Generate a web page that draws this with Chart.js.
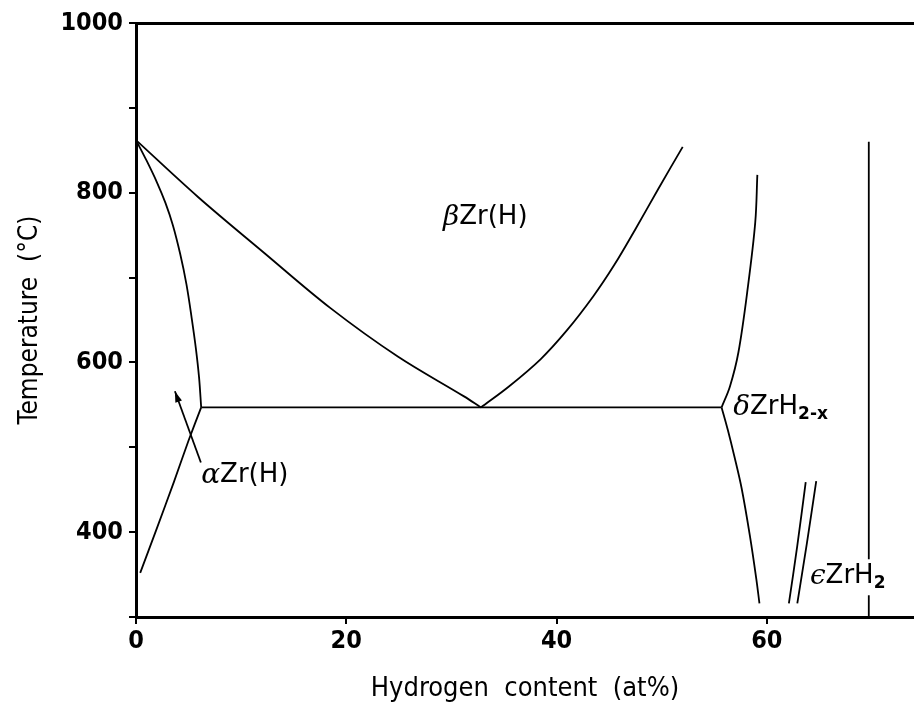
<!DOCTYPE html>
<html>
<head>
<meta charset="utf-8">
<title>Zr–H phase diagram</title>
<script src="https://cdn.jsdelivr.net/npm/chart.js@4.4.1/dist/chart.umd.min.js"></script>
<style>
  html, body { margin: 0; padding: 0; background: #fff; }
  #phaseChart { display: block; }
</style>
</head>
<body>
<canvas id="phaseChart" width="914" height="711"></canvas>
<script>
// Phase boundaries: hydrogen content (at%) against temperature (°C)
const alphaUpperH = [0, 1.0, 2.0, 2.8, 3.5, 4.2, 4.8, 5.3, 5.7, 6.0, 6.2];
const alphaUpperT = [862, 838, 812, 788, 762, 728, 692, 652, 616, 582, 547];

const alphaLowerH = [0.4, 2.0, 3.6, 5.0, 6.2];
const alphaLowerT = [352, 405, 459, 508, 547];

const betaLeftH = [0, 5.9, 12.2, 18.5, 24.9, 31.2, 32.8];
const betaLeftT = [862, 795, 729, 664, 607, 560, 547];

const betaRightH = [32.8, 35.5, 38.5, 41.0, 43.5, 45.5, 47.5, 49.7, 52.0];
const betaRightT = [547, 572, 604, 638, 678, 715, 757, 805, 854];

const eutectoidH = [6.2, 55.7];
const eutectoidT = [547, 547];

const deltaUpperH = [55.7, 56.5, 57.3, 58.2, 58.9, 59.1];
const deltaUpperT = [547, 572, 612, 689, 765, 821];

const deltaLowerH = [55.7, 56.3, 56.9, 57.6, 58.4, 59.0, 59.3];
const deltaLowerT = [547, 520, 490, 452, 395, 345, 316];

const epsLeftH = [63.7, 62.9, 62.1];
const epsLeftT = [459, 384, 316];

const epsRightH = [64.7, 63.8, 62.9];
const epsRightT = [460, 386, 316];

const dihydrideH = [69.7, 69.7];
const dihydrideT = [860, 300];

// pointer from the αZr(H) label into the α field (tail, tip)
const arrowH = [6.17, 3.7];
const arrowT = [482, 566];

const xTickLabels = [0, 20, 40, 60];
const yTickLabels = [400, 600, 800, 1000];

// phase names: greek prefix, formula, subscript, anchor (at%, °C)
const phaseNames = [
  { greek: 'β', text: 'Zr(H)', sub: '', h: 29.2, t: 771 },
  { greek: 'α', text: 'Zr(H)', sub: '', h: 6.2, t: 467 },
  { greek: 'δ', text: 'ZrH', sub: '2-x', h: 56.8, t: 547 },
  { greek: 'ϵ', text: 'ZrH', sub: '2', h: 64.1, t: 348, knockout: true },
];

const toPoints = (xs, ys) => xs.map((x, i) => ({ x: x, y: ys[i] }));

const boundary = (xs, ys, tension = 0.35) => ({
  data: toPoints(xs, ys),
  showLine: true,
  borderColor: '#000',
  borderWidth: 1.8,
  pointRadius: 0,
  fill: false,
  tension: tension,
});

const arrowHead = {
  id: 'arrowHead',
  afterDatasetsDraw(chart) {
    const { ctx, scales: { x, y } } = chart;
    const x0 = x.getPixelForValue(arrowH[0]), y0 = y.getPixelForValue(arrowT[0]);
    const x1 = x.getPixelForValue(arrowH[1]), y1 = y.getPixelForValue(arrowT[1]);
    const ang = Math.atan2(y1 - y0, x1 - x0);
    const len = 11, half = 3.5;
    ctx.save();
    ctx.fillStyle = '#000';
    ctx.beginPath();
    ctx.moveTo(x1, y1);
    ctx.lineTo(x1 - len * Math.cos(ang) + half * Math.sin(ang), y1 - len * Math.sin(ang) - half * Math.cos(ang));
    ctx.lineTo(x1 - len * Math.cos(ang) - half * Math.sin(ang), y1 - len * Math.sin(ang) + half * Math.cos(ang));
    ctx.closePath();
    ctx.fill();
    ctx.restore();
  }
};

const phaseLabels = {
  id: 'phaseLabels',
  afterDatasetsDraw(chart) {
    const { ctx, scales: { x, y } } = chart;
    const greekFont = 'italic 28px "DejaVu Serif"';
    const mainFont = '26px "DejaVu Sans"';
    const subFont = 'bold 17px "DejaVu Sans"';
    ctx.save();
    ctx.textBaseline = 'middle';
    ctx.textAlign = 'left';
    phaseNames.forEach(p => {
      let px = x.getPixelForValue(p.h);
      const py = y.getPixelForValue(p.t);
      ctx.font = greekFont;
      const gw = ctx.measureText(p.greek).width;
      ctx.font = mainFont;
      const mw = ctx.measureText(p.text).width;
      ctx.font = subFont;
      const sw = ctx.measureText(p.sub).width;
      if (p.knockout) {
        ctx.fillStyle = '#fff';
        ctx.fillRect(px - 2, py - 17, gw + mw + sw + 6, 36);
      }
      ctx.fillStyle = '#000';
      ctx.font = greekFont;
      ctx.fillText(p.greek, px, py);
      px += gw;
      ctx.font = mainFont;
      ctx.fillText(p.text, px, py);
      px += mw;
      if (p.sub) {
        ctx.font = subFont;
        ctx.fillText(p.sub, px, py + 7);
      }
    });
    ctx.restore();
  }
};

const condensed = '"DejaVu Sans Condensed", "Liberation Sans Narrow", "DejaVu Sans", sans-serif';

new Chart(document.getElementById('phaseChart'), {
  type: 'scatter',
  data: {
    datasets: [
      boundary(alphaUpperH, alphaUpperT),
      boundary(alphaLowerH, alphaLowerT, 0.2),
      boundary(betaLeftH, betaLeftT),
      boundary(betaRightH, betaRightT),
      boundary(eutectoidH, eutectoidT, 0),
      boundary(deltaUpperH, deltaUpperT),
      boundary(deltaLowerH, deltaLowerT),
      boundary(epsLeftH, epsLeftT),
      boundary(epsRightH, epsRightT),
      boundary(dihydrideH, dihydrideT, 0),
      boundary(arrowH, arrowT, 0),
    ]
  },
  options: {
    responsive: false,
    animation: false,
    layout: { padding: { top: 23, right: 0, bottom: 0, left: 0 } },
    plugins: {
      legend: { display: false },
      tooltip: { enabled: false },
    },
    scales: {
      x: {
        type: 'linear',
        position: 'bottom',
        min: 0,
        max: 74,
        afterFit(scale) { scale.height = 94; },
        border: { display: true, color: '#000', width: 3 },
        grid: { drawOnChartArea: false, drawTicks: true, tickLength: 7, lineWidth: 2, color: '#000' },
        ticks: {
          stepSize: 20,
          includeBounds: false,
          color: '#000',
          padding: 2,
          maxRotation: 0,
          font: { family: condensed, size: 25, weight: 'bold' },
          callback: v => xTickLabels.includes(v) ? String(v) : '',
        },
        title: {
          display: true,
          text: 'Hydrogen  content  (at%)',
          color: '#000',
          font: { family: condensed, size: 27 },
          padding: { top: 0, bottom: 6 },
        },
      },
      x2: {
        type: 'linear',
        position: 'top',
        min: 0,
        max: 74,
        afterFit(scale) { scale.height = 0; },
        border: { display: true, color: '#000', width: 3 },
        grid: { display: false, drawTicks: false },
        ticks: { display: false },
      },
      y: {
        type: 'linear',
        min: 300,
        max: 1000,
        afterFit(scale) { scale.width = 136; },
        border: { display: true, color: '#000', width: 3 },
        grid: { drawOnChartArea: false, drawTicks: true, tickLength: 7, lineWidth: 2, color: '#000' },
        ticks: {
          stepSize: 100,
          color: '#000',
          padding: 6,
          font: { family: condensed, size: 25, weight: 'bold' },
          callback: v => yTickLabels.includes(v) ? String(v) : '',
        },
        title: {
          display: true,
          text: 'Temperature  (°C)',
          color: '#000',
          font: { family: condensed, size: 26 },
          padding: { top: 15, bottom: 0 },
        },
      },
    },
  },
  plugins: [arrowHead, phaseLabels],
});
</script>
</body>
</html>
